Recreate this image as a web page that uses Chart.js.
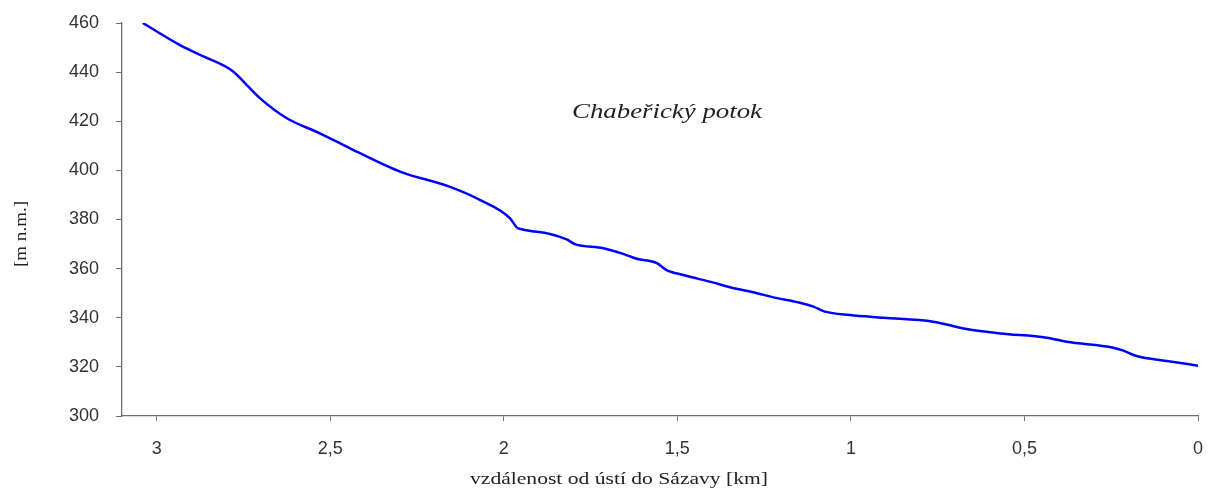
<!DOCTYPE html>
<html lang="cs">
<head>
<meta charset="utf-8">
<title>Chabeřický potok – podélný profil</title>
<script src="https://cdn.jsdelivr.net/npm/chart.js@4/dist/chart.umd.min.js"></script>
<style>
  html, body { margin: 0; padding: 0; background: #fff; }
  #wrap { position: relative; width: 1219px; height: 491px; }
</style>
</head>
<body>
<div id="wrap"><canvas id="profileChart"></canvas></div>
<script>
// distance from the mouth [km] and elevation [m n.m.]
const distKm = [3.04, 2.933, 2.875, 2.779, 2.741, 2.702, 2.625, 2.53, 2.443, 2.299,
  2.155, 2.069, 1.982, 1.963, 1.948, 1.867, 1.819, 1.795, 1.713, 1.656,
  1.617, 1.559, 1.531, 1.483, 1.396, 1.348, 1.271, 1.223, 1.147, 1.108,
  1.075, 1.003, 0.906, 0.763, 0.667, 0.57, 0.436, 0.378, 0.244, 0.215,
  0.177, 0.09, 0];
const elevation = [460, 451, 447, 440.2, 434.8, 429.3, 421.2, 415.1, 409, 399.5,
  393.3, 388, 380.5, 376.8, 376, 374.1, 371.9, 370, 368.3, 366,
  364, 362.2, 359.4, 357.4, 354.3, 352.4, 350, 348.3, 346.1, 344.5,
  342.5, 341.1, 340, 338.4, 335.4, 333.6, 331.9, 330.2, 327.8, 326.6,
  324.4, 322.4, 320.5];
const xTicks = [3, 2.5, 2, 1.5, 1, 0.5, 0];
const yTicks = [300, 320, 340, 360, 380, 400, 420, 440, 460];

const streamName = 'Chabeřický potok';
const xTitle = 'vzdálenost od ústí do Sázavy [km]';
const yTitle = '[m n.m.]';

const axisColor = '#6e6e6e';
const labelColor = '#333';

// draws a string stretched to a given width
function drawFitted(ctx, text, cx, cy, width, font) {
  ctx.save();
  ctx.font = font;
  const w = ctx.measureText(text).width;
  ctx.translate(cx, cy);
  ctx.scale(width / w, 1);
  ctx.textAlign = 'center';
  ctx.textBaseline = 'middle';
  ctx.fillText(text, 0, 0);
  ctx.restore();
}

const textPlugin = {
  id: 'profileText',
  afterDraw(chart) {
    const ctx = chart.ctx;
    ctx.save();
    ctx.fillStyle = '#222';
    drawFitted(ctx, streamName, 667, 112, 190, 'italic 22px "Liberation Serif", "Times New Roman", serif');
    drawFitted(ctx, xTitle, 619, 480, 298, '16px "Liberation Serif", "Times New Roman", serif');
    ctx.translate(22, 234);
    ctx.rotate(-Math.PI / 2);
    drawFitted(ctx, yTitle, 0, 0, 66, '16px "Liberation Serif", "Times New Roman", serif');
    ctx.restore();
  }
};

const points = distKm.map((d, i) => ({ x: d, y: elevation[i] }));

new Chart(document.getElementById('profileChart'), {
  type: 'line',
  data: {
    datasets: [{
      data: points,
      borderColor: '#0000ff',
      borderWidth: 2.5,
      pointRadius: 0,
      cubicInterpolationMode: 'monotone',
      fill: false
    }]
  },
  options: {
    responsive: true,
    maintainAspectRatio: false,
    animation: false,
    layout: { padding: { top: 23, right: 21, bottom: 0, left: 0 } },
    plugins: {
      legend: { display: false },
      tooltip: { enabled: false }
    },
    scales: {
      x: {
        type: 'linear',
        reverse: true,
        min: 0,
        max: 3.1,
        afterBuildTicks: (scale) => { scale.ticks = xTicks.map((v) => ({ value: v })); },
        afterFit: (scale) => {
          scale.height = 75;
          scale.paddingLeft = 0;
          scale.paddingRight = 0;
        },
        grid: { drawOnChartArea: false, tickLength: 5, color: axisColor, lineWidth: 1 },
        border: { color: axisColor, width: 1.3 },
        ticks: {
          color: labelColor,
          padding: 17,
          maxRotation: 0,
          font: { family: '"Liberation Sans", Arial, sans-serif', size: 18 },
          callback: (v) => String(v).replace('.', ',')
        }
      },
      y: {
        min: 300,
        max: 460,
        afterBuildTicks: (scale) => { scale.ticks = yTicks.map((v) => ({ value: v })); },
        afterFit: (scale) => {
          scale.width = 122;
          scale.paddingTop = 0;
          scale.paddingBottom = 0;
        },
        grid: { drawOnChartArea: false, tickLength: 6, color: axisColor, lineWidth: 1 },
        border: { color: axisColor, width: 1.3 },
        ticks: {
          color: labelColor,
          padding: 17,
          font: { family: '"Liberation Sans", Arial, sans-serif', size: 18 }
        }
      }
    }
  },
  plugins: [textPlugin]
});
</script>
</body>
</html>
